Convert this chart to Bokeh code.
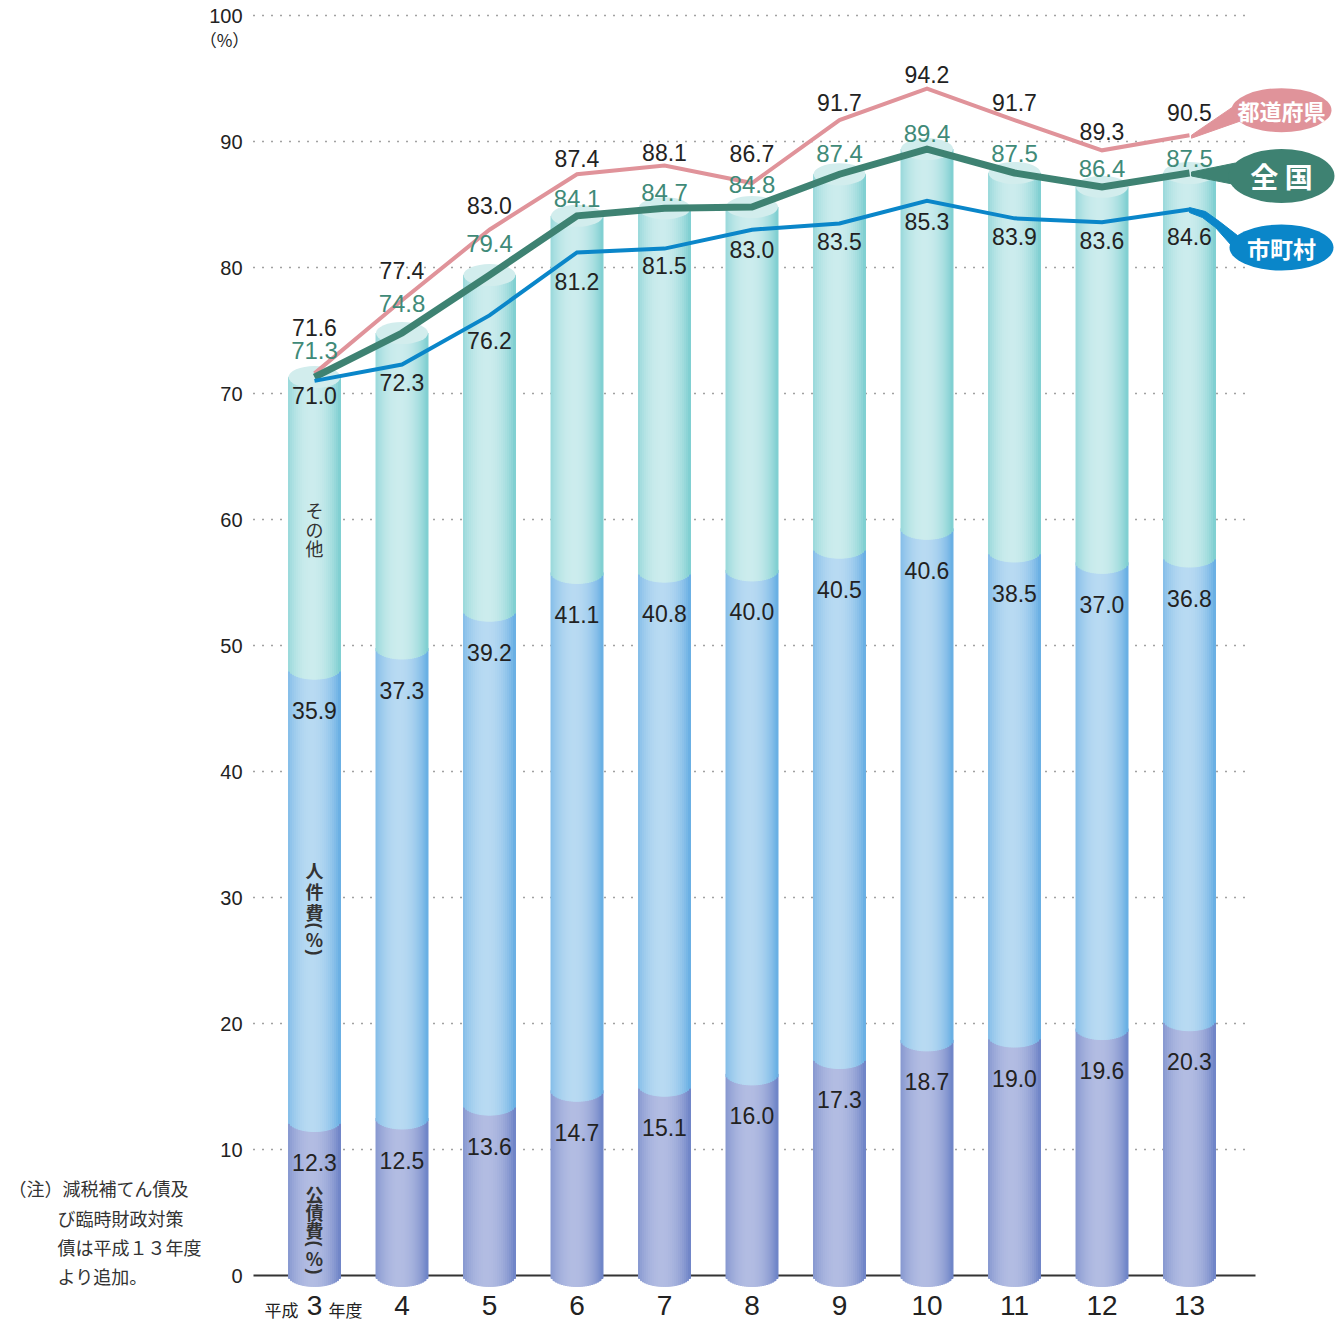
from bokeh.plotting import figure
from bokeh.models import Range1d
from bokeh.embed import file_html
from bokeh.resources import INLINE
from bokeh.core.properties import value
import numpy as np

# ---------------- data ----------------
years = ["3", "4", "5", "6", "7", "8", "9", "10", "11", "12", "13"]
kosaihi = [12.3, 12.5, 13.6, 14.7, 15.1, 16.0, 17.3, 18.7, 19.0, 19.6, 20.3]      # 公債費
jinkenhi = [35.9, 37.3, 39.2, 41.1, 40.8, 40.0, 40.5, 40.6, 38.5, 37.0, 36.8]     # 人件費
zenkoku = [71.3, 74.8, 79.4, 84.1, 84.7, 84.8, 87.4, 89.4, 87.5, 86.4, 87.5]      # 全国
todofuken = [71.6, 77.4, 83.0, 87.4, 88.1, 86.7, 91.7, 94.2, 91.7, 89.3, 90.5]    # 都道府県
shichoson = [71.0, 72.3, 76.2, 81.2, 81.5, 83.0, 83.5, 85.3, 83.9, 83.6, 84.6]    # 市町村
y_ticks = [0, 10, 20, 30, 40, 50, 60, 70, 80, 90, 100]
note_lines = ["（注）減税補てん債及", "び臨時財政対策", "債は平成１３年度", "より追加。"]

# label placement (pixels) – layout only
pref_off = [46, 30, 24, 16, 13, 30, 18, 14, 18, 19, 23]
zen_off = [27, 30, 32, 17, 16, 23, 21, 16, 20, 18, 15]
shi_off = [15, 18, 25, 29, 17, 20, 18, 21, 18, 18, 27]

# ---------------- geometry helpers ----------------
PX_X = 87.5     # pixels per category step
PX_Y = 12.6     # pixels per percent
X0 = 314        # page x of first category
Y0 = 1275       # page y of value 0
FW, FH = 1342, 1324


def dx(px):
    return px / PX_X


def dy(px):
    return px / PX_Y


def py(page_y):
    return (Y0 - page_y) / PX_Y


def px(page_x):
    return (page_x - X0) / PX_X


CJK = value("Noto Sans CJK JP")
LAT = value("Liberation Sans")

p = figure(width=FW, height=FH, output_backend="svg", toolbar_location=None,
           x_axis_location=None, y_axis_location=None, min_border=0,
           x_range=Range1d(px(0), px(FW)),
           y_range=Range1d(py(FH), py(0)))
p.outline_line_color = None
p.xgrid.visible = False
p.ygrid.visible = False
p.background_fill_color = "white"

n = len(years)
xs = np.arange(n)

# ---------------- grid lines ----------------
gt = [t for t in y_ticks if t > 0]
p.segment(x0=[px(253)] * len(gt), x1=[px(1250)] * len(gt), y0=gt, y1=gt,
          line_color="#444444", line_width=1.3, line_dash="1 8")
p.segment(x0=[px(253)], x1=[px(1255)], y0=[0], y1=[0], line_color="#333333", line_width=2)

# ---------------- tick labels ----------------
p.text(x=[px(242)] * len(y_ticks), y=y_ticks, text=[str(t) for t in y_ticks],
       text_align="right", text_baseline="middle", text_font=LAT,
       text_font_size="20px", text_color="#222222")
p.text(x=[px(224)], y=[py(39)], text=["（%）"], text_align="center",
       text_baseline="middle", text_font=CJK, text_font_size="17px", text_color="#222222")

# ---------------- cylinders ----------------
N = 26
W = dx(52)
D = dy(11)
edges = np.linspace(-W / 2, W / 2, N + 1)
xc = (edges[:-1] + edges[1:]) / 2
u = (xc + W / 2) / W
prof = np.clip(1 - ((u - 0.45) / 0.56) ** 2, 0, 1) ** 0.9
depth = D * np.sqrt(np.clip(1 - (2 * xc / W) ** 2, 0, 1))


def mix(c1, c2, t):
    r = [int(round(a + (b - a) * t)) for a, b in zip(c1, c2)]
    return "#%02x%02x%02x" % tuple(r)


seg_colors = [
    ((104, 126, 196), (178, 188, 226)),   # 公債費
    ((96, 170, 226), (184, 218, 242)),    # 人件費
    ((118, 204, 206), (204, 236, 237)),   # その他
]

lows = [[0.0] * n, list(kosaihi), [a + b for a, b in zip(kosaihi, jinkenhi)]]
highs = [list(kosaihi), [a + b for a, b in zip(kosaihi, jinkenhi)], list(zenkoku)]

for s in range(3):
    L, R, B, T, C = [], [], [], [], []
    for i in range(n):
        for k in range(N):
            L.append(i + edges[k])
            R.append(i + edges[k + 1])
            B.append(lows[s][i] - depth[k])
            T.append(highs[s][i])
            C.append(mix(seg_colors[s][0], seg_colors[s][1], prof[k]))
    p.quad(left=L, right=R, bottom=B, top=T, fill_color=C, line_color=C, line_width=1)

p.ellipse(x=xs, y=zenkoku, width=W, height=2 * D, fill_color="#d2eded", line_color=None)

# ---------------- segment value labels ----------------
lab_gap = dy(42)
p.text(x=xs, y=[v - lab_gap for v in kosaihi], text=["%.1f" % v for v in kosaihi],
       text_align="center", text_baseline="middle", text_font=LAT,
       text_font_size="23px", text_color="#222222")
p.text(x=xs, y=[h - lab_gap for h in highs[1]], text=["%.1f" % v for v in jinkenhi],
       text_align="center", text_baseline="middle", text_font=LAT,
       text_font_size="23px", text_color="#222222")


# vertical category labels in the first bar (one character per glyph)
def vlabel(chars, page_ys, bold):
    kanji = [(c, y) for c, y in zip(chars, page_ys) if c not in "()"]
    p.text(x=[0] * len(kanji), y=[py(y) for c, y in kanji], text=[c for c, y in kanji],
           text_align="center", text_baseline="middle", text_font=CJK, text_font_size="18px",
           text_font_style="bold" if bold else "normal", text_color="#333333")
    par = [(c, y) for c, y in zip(chars, page_ys) if c in "()"]
    if par:
        p.text(x=[0] * len(par), y=[py(y) for c, y in par], text=[c for c, y in par],
               angle=-np.pi / 2, text_align="center", text_baseline="middle", text_font=LAT,
               text_font_size="18px", text_font_style="bold", text_color="#333333")


vlabel(["そ", "の", "他"], [509, 528, 547], False)
vlabel(["人", "件", "費", "(", "%", ")"], [869, 890, 911, 925, 938, 952], True)
vlabel(["公", "債", "費", "(", "%", ")"], [1193, 1211, 1229, 1243, 1257, 1271], True)

# ---------------- lines ----------------
C_PREF = "#e0939a"
C_ZEN = "#3e8272"
C_SHI = "#0a86c9"
p.line(xs, todofuken, line_color=C_PREF, line_width=4, line_join="miter")
p.line(xs, zenkoku, line_color=C_ZEN, line_width=7, line_join="miter")
p.line(xs, shichoson, line_color=C_SHI, line_width=4, line_join="miter")

p.text(x=xs, y=[v + dy(o) for v, o in zip(todofuken, pref_off)], text=["%.1f" % v for v in todofuken],
       text_align="center", text_baseline="middle", text_font=LAT, text_font_size="23px",
       text_color="#222222")
p.text(x=xs, y=[v + dy(o) for v, o in zip(zenkoku, zen_off)], text=["%.1f" % v for v in zenkoku],
       text_align="center", text_baseline="middle", text_font=LAT, text_font_size="24px",
       text_color="#3f8a78")
p.text(x=xs, y=[v - dy(o) for v, o in zip(shichoson, shi_off)], text=["%.1f" % v for v in shichoson],
       text_align="center", text_baseline="middle", text_font=LAT, text_font_size="23px",
       text_color="#222222")

# ---------------- legend badges ----------------
last = n - 1


def badge(yv, cx_px, cy_px, w_px, h_px, color, label, fsize, tail):
    bx = last + dx(cx_px)
    by = yv + dy(cy_px)
    tx = [last + dx(a) for a, b in tail]
    ty = [yv + dy(b) for a, b in tail]
    p.patch(tx, ty, fill_color=color, line_color=color, line_width=1)
    p.ellipse(x=[bx], y=[by], width=dx(w_px), height=dy(h_px), fill_color=color, line_color=None)
    p.text(x=[bx], y=[by], text=[label], text_align="center", text_baseline="middle",
           text_font=CJK, text_font_size=fsize, text_font_style="bold", text_color="white")


badge(todofuken[last], 92, 25, 100, 44, C_PREF, "都道府県", "22px",
      [(2, 0), (46, 30), (56, 16), (2, -3)])
badge(zenkoku[last], 92, -3, 106, 54, C_ZEN, "全 国", "28px",
      [(2, 1), (46, 10), (48, -12), (2, -3)])
badge(shichoson[last], 92, -38, 104, 46, C_SHI, "市町村", "23px",
      [(0, 2), (16, -2), (30, -12), (48, -26), (42, -36), (26, -18), (13, -8), (0, -3)])

# ---------------- x labels ----------------
p.text(x=xs, y=[py(1305)] * n, text=years, text_align="center", text_baseline="middle",
       text_font=LAT, text_font_size="28px", text_color="#222222")
p.text(x=[px(281)], y=[py(1309)], text=["平成"], text_align="center",
       text_baseline="middle", text_font=CJK, text_font_size="17px", text_color="#222222")
p.text(x=[px(345)], y=[py(1309)], text=["年度"], text_align="center",
       text_baseline="middle", text_font=CJK, text_font_size="17px", text_color="#222222")

# ---------------- note ----------------
note_x = [px(8)] + [px(57)] * 3
note_y = [py(v) for v in (1187, 1217, 1246, 1275)]
p.text(x=note_x, y=note_y, text=note_lines, text_align="left", text_baseline="middle",
       text_font=CJK, text_font_size="18px", text_color="#333333")

open("out.html", "w").write(file_html(p, INLINE))
